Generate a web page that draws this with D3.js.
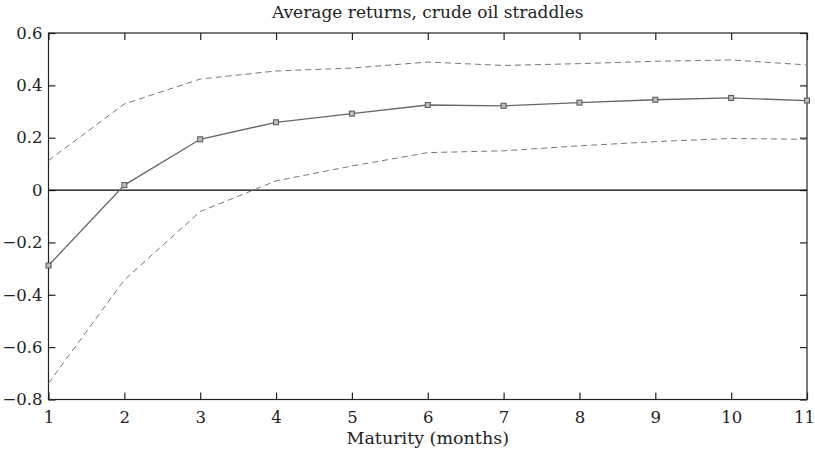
<!DOCTYPE html>
<html>
<head>
<meta charset="utf-8">
<script src="https://cdn.jsdelivr.net/npm/d3@7"></script>
<style>
body{margin:0;background:#fff;}
svg text{font-family:'DejaVu Serif',serif !important;fill:#222;}
</style>
</head>
<body>
<svg id="chart" width="815" height="458"></svg>
<script>
const maturities = [1,2,3,4,5,6,7,8,9,10,11];
const meanReturn = [-0.288,0.019,0.194,0.259,0.292,0.325,0.322,0.334,0.345,0.352,0.342];
const upperBand = [0.113,0.329,0.424,0.455,0.466,0.489,0.476,0.483,0.492,0.497,0.478];
const lowerBand = [-0.738,-0.343,-0.082,0.035,0.092,0.143,0.150,0.169,0.185,0.197,0.194];
const yTicks = [-0.8,-0.6,-0.4,-0.2,0,0.2,0.4,0.6];
const xTicks = [1,2,3,4,5,6,7,8,9,10,11];

const svg = d3.select("#chart");
const L=48.5, R=807, T=33, B=399.5;
const x = d3.scaleLinear().domain([1,11]).range([L,R]);
const y = d3.scaleLinear().domain([-0.8,0.6]).range([B,T]);
const fmt = d => d===0 ? "0" : d3.format(".1f")(d);

svg.append("rect").attr("x",L).attr("y",T).attr("width",R-L).attr("height",B-T)
  .attr("fill","none").attr("stroke","#222").attr("stroke-width",1.2);

const tl=7;
const gxb = svg.append("g").attr("transform",`translate(0,${B})`)
  .call(d3.axisBottom(x).tickValues(xTicks).tickSizeInner(-tl).tickSizeOuter(0).tickPadding(12).tickFormat(d3.format("d")));
const gxt = svg.append("g").attr("transform",`translate(0,${T})`)
  .call(d3.axisTop(x).tickValues(xTicks).tickSizeInner(-tl).tickSizeOuter(0).tickFormat(""));
const gyl = svg.append("g").attr("transform",`translate(${L},0)`)
  .call(d3.axisLeft(y).tickValues(yTicks).tickSizeInner(-tl).tickSizeOuter(0).tickPadding(6).tickFormat(fmt));
const gyr = svg.append("g").attr("transform",`translate(${R},0)`)
  .call(d3.axisRight(y).tickValues(yTicks).tickSizeInner(-tl).tickSizeOuter(0).tickFormat(""));
[gxb,gxt,gyl,gyr].forEach(g=>{
  g.attr("font-family",null).attr("font-size",null);
  g.select(".domain").remove();
  g.selectAll("line").attr("stroke","#222").attr("stroke-width",1.2);
  g.selectAll("text").style("font-size","16.5px").attr("fill","#222");
});
// keep last x label inside the window
gxb.selectAll(".tick").filter(d=>d===11).select("text").attr("text-anchor","end").attr("x",815-R-0.5);

svg.append("line").attr("x1",L).attr("x2",R).attr("y1",y(0)).attr("y2",y(0))
  .attr("stroke","#000").attr("stroke-width",1.2);

const line = d3.line().x((d,i)=>x(maturities[i])).y(d=>y(d));
svg.append("path").datum(upperBand).attr("d",line).attr("fill","none")
  .attr("stroke","#777").attr("stroke-width",1).attr("stroke-dasharray","6,4");
svg.append("path").datum(lowerBand).attr("d",line).attr("fill","none")
  .attr("stroke","#777").attr("stroke-width",1).attr("stroke-dasharray","6,4");
svg.append("path").datum(meanReturn).attr("d",line).attr("fill","none")
  .attr("stroke","#666").attr("stroke-width",1.3);
svg.append("g").selectAll("rect").data(meanReturn).join("rect")
  .attr("x",(d,i)=>x(maturities[i])-2.5).attr("y",d=>y(d)-2.5)
  .attr("width",5).attr("height",5).attr("fill","#bbb").attr("stroke","#555").attr("stroke-width",1);

svg.append("text").attr("x",(L+R)/2).attr("y",18).attr("text-anchor","middle")
  .style("font-size","17px").text("Average returns, crude oil straddles");
svg.append("text").attr("x",(L+R)/2).attr("y",444).attr("text-anchor","middle")
  .style("font-size","17.5px").text("Maturity (months)");
</script>
</body>
</html>
